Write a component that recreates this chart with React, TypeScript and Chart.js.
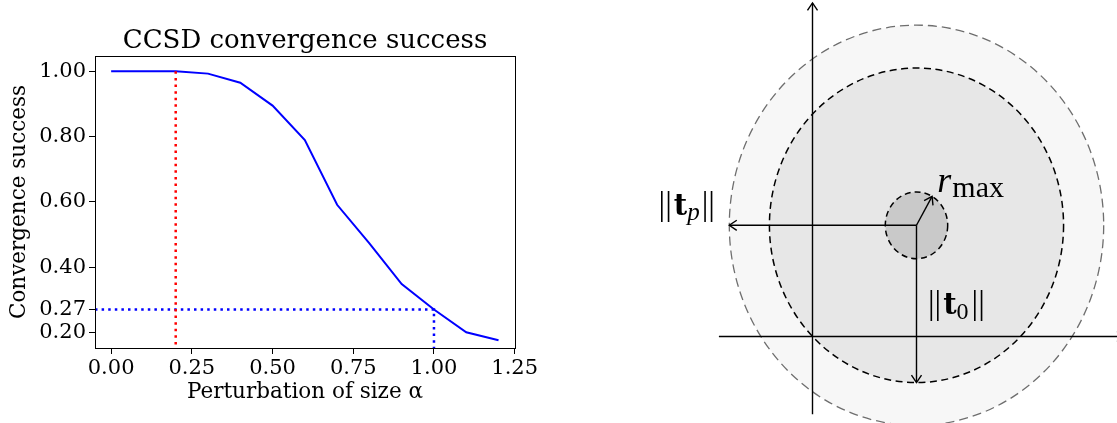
import { useEffect, useRef } from "react";
import { Chart, registerables } from "chart.js";

Chart.register(...registerables);

// ---------- Left panel data ----------
const TITLE = "CCSD convergence success";
const X_LABEL = "Perturbation of size α";
const Y_LABEL = "Convergence success";
const ALPHA = [0, 0.1, 0.2, 0.3, 0.4, 0.5, 0.6, 0.7, 0.8, 0.9, 1.0, 1.1, 1.2];
const SUCCESS = [1.0, 1.0, 1.0, 0.993, 0.965, 0.895, 0.789, 0.591, 0.473, 0.348, 0.27, 0.2, 0.176];
const X_TICKS = [0, 0.25, 0.5, 0.75, 1.0, 1.25];
const Y_TICKS = [0.2, 0.27, 0.4, 0.6, 0.8, 1.0];
const X_MIN = -0.05;
const X_MAX = 1.251;
const Y_MIN = 0.152;
const Y_MAX = 1.047;
const ALPHA_MARK = 0.2; // red dotted vertical
const ALPHA_LIMIT = 1.0; // blue dotted guide
const SUCCESS_LIMIT = 0.27;

// ---------- Right panel data ----------
const CENTER = { x: 1, y: 1 };
const R_OUTER = 1.8;
const R_MID = Math.SQRT2;
const R_INNER = 0.3;
const R_ANGLE_DEG = 60;
const AXIS_V = [
  { x: 0, y: -0.7 },
  { x: 0, y: 3 },
];
const AXIS_H = [
  { x: -0.9, y: 0 },
  { x: 3, y: 0 },
];
const RX_MIN = -2.428;
const RX_MAX = 2.928;
const RY_MIN = -0.778;
const RY_MAX = 3.026;

const SERIF = "'DejaVu Serif', serif";
const TEX = "'Liberation Serif', serif";

const boxPlugin = {
  id: "box",
  afterDraw(chart: any) {
    const { ctx, chartArea: a } = chart;
    ctx.save();
    ctx.strokeStyle = "#000";
    ctx.lineWidth = 1;
    const l = Math.round(a.left) + 0.5;
    const r = Math.round(a.right) + 0.5;
    const t = Math.round(a.top) + 0.5;
    const b = Math.round(a.bottom) + 0.5;
    ctx.strokeRect(l, t, r - l, b - t);
    // title centred over the plot area (matplotlib style)
    ctx.fillStyle = "#000";
    ctx.font = `26px ${SERIF}`;
    ctx.textAlign = "center";
    ctx.textBaseline = "alphabetic";
    ctx.fillText(TITLE, (a.left + a.right) / 2, a.top - 8);
    ctx.restore();
  },
};

function drawSegments(ctx: CanvasRenderingContext2D, x: number, y: number, segs: any[]) {
  let cx = x;
  for (const s of segs) {
    ctx.font = s.font;
    ctx.fillText(s.text, cx + (s.dx || 0), y + (s.dy || 0));
    cx += ctx.measureText(s.text).width + (s.dx || 0) + (s.gap || 0);
  }
}

const diagramPlugin = {
  id: "diagram",
  beforeDatasetsDraw(chart: any) {
    const { ctx, scales } = chart;
    const xs = scales.x;
    const ys = scales.y;
    const cx = xs.getPixelForValue(CENTER.x);
    const cy = ys.getPixelForValue(CENTER.y);
    const circles = [
      { r: R_OUTER, fill: "#f7f7f7", stroke: "#6e6e6e", dash: [9, 5], lw: 1.3 },
      { r: R_MID, fill: "#e7e7e7", stroke: "#000", dash: [7, 4.5], lw: 1.5 },
      { r: R_INNER, fill: "#c9c9c9", stroke: "#000", dash: [6, 4], lw: 1.5 },
    ];
    ctx.save();
    for (const c of circles) {
      const rx = Math.abs(xs.getPixelForValue(CENTER.x + c.r) - cx);
      const ry = Math.abs(ys.getPixelForValue(CENTER.y + c.r) - cy);
      ctx.beginPath();
      ctx.ellipse(cx, cy, rx, ry, 0, 0, Math.PI * 2);
      ctx.fillStyle = c.fill;
      ctx.fill();
      ctx.setLineDash(c.dash);
      ctx.strokeStyle = c.stroke;
      ctx.lineWidth = c.lw;
      ctx.stroke();
    }
    ctx.restore();
  },
  afterDatasetsDraw(chart: any) {
    const { ctx, scales } = chart;
    const xs = scales.x;
    const ys = scales.y;
    ctx.save();
    ctx.strokeStyle = "#000";
    ctx.lineWidth = 1.4;
    ctx.setLineDash([]);
    chart.data.datasets.forEach((ds: any) => {
      if (!ds.arrowEnd) return;
      const n = ds.data.length;
      const p0 = ds.data[n - 2];
      const p1 = ds.data[n - 1];
      const x0 = xs.getPixelForValue(p0.x);
      const y0 = ys.getPixelForValue(p0.y);
      const x1 = xs.getPixelForValue(p1.x);
      const y1 = ys.getPixelForValue(p1.y);
      const ang = Math.atan2(y1 - y0, x1 - x0);
      const len = 9;
      const spread = (34 * Math.PI) / 180;
      ctx.beginPath();
      ctx.moveTo(x1 - len * Math.cos(ang - spread), y1 - len * Math.sin(ang - spread));
      ctx.lineTo(x1, y1);
      ctx.lineTo(x1 - len * Math.cos(ang + spread), y1 - len * Math.sin(ang + spread));
      ctx.stroke();
    });

    ctx.fillStyle = "#000";
    ctx.textBaseline = "alphabetic";
    ctx.textAlign = "left";
    const bars = { text: "||", font: `33px ${TEX}` };
    // ||t_p||
    drawSegments(ctx, xs.getPixelForValue(-1.48), ys.getPixelForValue(1.09), [
      bars,
      { text: "t", font: `bold 29px ${SERIF}`, dx: 2 },
      { text: "p", font: `italic 25px ${TEX}`, dy: 5, gap: 2 },
      bars,
    ]);
    // ||t_0||
    drawSegments(ctx, xs.getPixelForValue(1.11), ys.getPixelForValue(0.2), [
      bars,
      { text: "t", font: `bold 29px ${SERIF}`, dx: 2 },
      { text: "0", font: `24px ${TEX}`, dy: 5, gap: 3 },
      bars,
    ]);
    // r_max
    drawSegments(ctx, xs.getPixelForValue(1.2), ys.getPixelForValue(1.3), [
      { text: "r", font: `italic 36px ${TEX}` },
      { text: "max", font: `30px ${TEX}`, dy: 5, dx: 1 },
    ]);
    ctx.restore();
  },
};

function ConvergenceChart() {
  const ref = useRef<HTMLCanvasElement | null>(null);
  useEffect(() => {
    if (!ref.current) return;
    const tickFont = { family: SERIF, size: 21 };
    const labelFont = { family: SERIF, size: 21.5 };
    const chart = new Chart(ref.current, {
      type: "line",
      data: {
        datasets: [
          {
            label: "success",
            data: ALPHA.map((a, i) => ({ x: a, y: SUCCESS[i] })),
            borderColor: "#0000ff",
            borderWidth: 2,
            pointRadius: 0,
            tension: 0,
            fill: false,
            order: 2,
          },
          {
            label: "mark",
            data: [
              { x: ALPHA_MARK, y: 1.0 },
              { x: ALPHA_MARK, y: Y_MIN },
            ],
            borderColor: "#ff0000",
            borderWidth: 2.5,
            borderDash: [2.5, 4.1],
            borderCapStyle: "butt",
            pointRadius: 0,
            fill: false,
            order: 1,
          },
          {
            label: "limit",
            data: [
              { x: X_MIN, y: SUCCESS_LIMIT },
              { x: ALPHA_LIMIT, y: SUCCESS_LIMIT },
              { x: ALPHA_LIMIT, y: Y_MIN },
            ],
            borderColor: "#0000ff",
            borderWidth: 2.5,
            borderDash: [2.5, 4.1],
            borderCapStyle: "butt",
            pointRadius: 0,
            fill: false,
            order: 1,
          },
        ],
      } as any,
      options: {
        animation: false,
        responsive: false,
        devicePixelRatio: 1,
        layout: { padding: { left: 0, right: 45, top: 56, bottom: 0 } },
        plugins: {
          legend: { display: false },
          tooltip: { enabled: false },
          title: { display: false },
        },
        scales: {
          x: {
            type: "linear",
            min: X_MIN,
            max: X_MAX,
            afterBuildTicks: (s: any) => {
              s.ticks = X_TICKS.map((v) => ({ value: v }));
            },
            afterFit: (s: any) => {
              s.height = 75;
            },
            ticks: {
              color: "#000",
              font: tickFont,
              padding: 2,
              maxRotation: 0,
              autoSkip: false,
              callback: (v: any) => Number(v).toFixed(2),
            },
            grid: {
              display: true,
              drawOnChartArea: false,
              drawTicks: true,
              tickLength: 6,
              tickColor: "#000",
              tickWidth: 1,
            },
            border: { display: true, color: "#000", width: 1 },
            title: {
              display: true,
              text: X_LABEL,
              color: "#000",
              font: labelFont,
              padding: { top: 0, bottom: 18 },
            },
          },
          y: {
            type: "linear",
            min: Y_MIN,
            max: Y_MAX,
            afterBuildTicks: (s: any) => {
              s.ticks = Y_TICKS.map((v) => ({ value: v }));
            },
            afterFit: (s: any) => {
              s.width = 95;
            },
            ticks: {
              color: "#000",
              font: tickFont,
              padding: 3,
              autoSkip: false,
              callback: (v: any) => Number(v).toFixed(2),
            },
            grid: {
              display: true,
              drawOnChartArea: false,
              drawTicks: true,
              tickLength: 6,
              tickColor: "#000",
              tickWidth: 1,
            },
            border: { display: true, color: "#000", width: 1 },
            title: {
              display: true,
              text: Y_LABEL,
              color: "#000",
              font: labelFont,
              padding: { top: 7, bottom: 0 },
            },
          },
        },
      } as any,
      plugins: [boxPlugin],
    });
    return () => chart.destroy();
  }, []);
  return <canvas ref={ref} width={560} height={423} style={{ display: "block" }} />;
}

function DiagramChart() {
  const ref = useRef<HTMLCanvasElement | null>(null);
  useEffect(() => {
    if (!ref.current) return;
    const rad = (R_ANGLE_DEG * Math.PI) / 180;
    const line = (data: any[], arrowEnd: boolean) => ({
      data,
      borderColor: "#000",
      borderWidth: 1.4,
      pointRadius: 0,
      showLine: true,
      fill: false,
      tension: 0,
      arrowEnd,
    });
    const chart = new Chart(ref.current, {
      type: "scatter",
      data: {
        datasets: [
          line(AXIS_V, true),
          line(AXIS_H, true),
          line(
            [
              { x: CENTER.x, y: CENTER.y },
              { x: CENTER.x - R_OUTER, y: CENTER.y },
            ],
            true
          ),
          line(
            [
              { x: CENTER.x, y: CENTER.y },
              { x: CENTER.x, y: CENTER.y - R_MID },
            ],
            true
          ),
          line(
            [
              { x: CENTER.x, y: CENTER.y },
              { x: CENTER.x + R_INNER * Math.cos(rad), y: CENTER.y + R_INNER * Math.sin(rad) },
            ],
            true
          ),
        ],
      } as any,
      options: {
        animation: false,
        responsive: false,
        devicePixelRatio: 1,
        layout: { padding: 0 },
        plugins: { legend: { display: false }, tooltip: { enabled: false } },
        scales: {
          x: { type: "linear", min: RX_MIN, max: RX_MAX, display: false },
          y: { type: "linear", min: RY_MIN, max: RY_MAX, display: false },
        },
      } as any,
      plugins: [diagramPlugin],
    });
    return () => chart.destroy();
  }, []);
  return <canvas ref={ref} width={557} height={423} style={{ display: "block" }} />;
}

export default function App() {
  return (
    <div
      style={{
        position: "absolute",
        left: 0,
        top: 0,
        width: 1117,
        height: 423,
        background: "#fff",
        overflow: "hidden",
      }}
    >
      <div style={{ position: "absolute", left: 0, top: 0, width: 560, height: 423 }}>
        <ConvergenceChart />
      </div>
      <div style={{ position: "absolute", left: 560, top: 0, width: 557, height: 423 }}>
        <DiagramChart />
      </div>
    </div>
  );
}
